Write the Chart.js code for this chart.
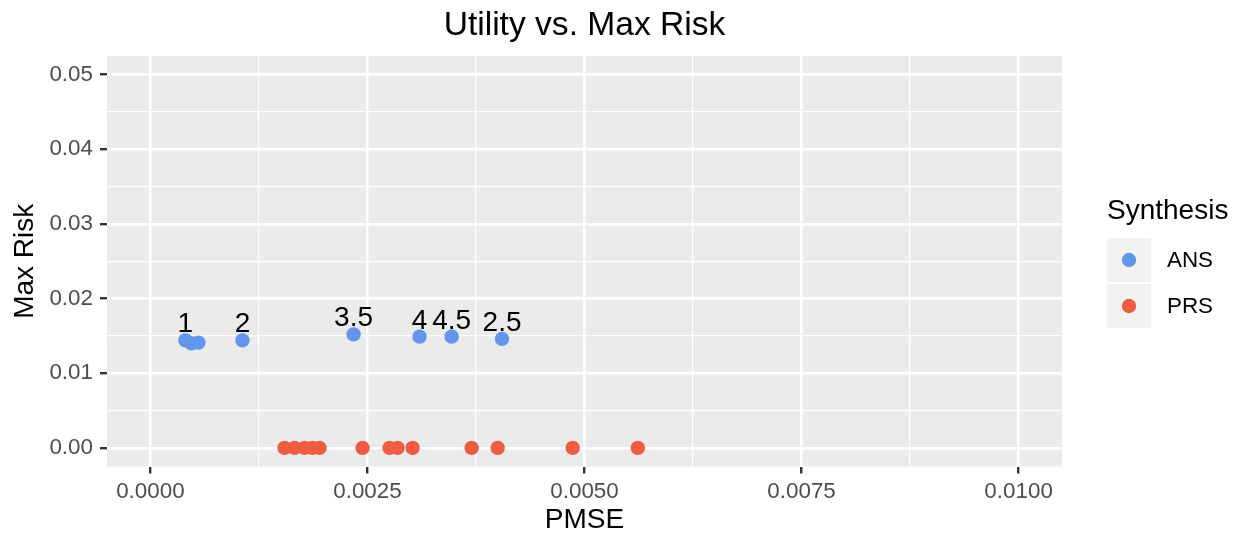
<!DOCTYPE html>
<html>
<head>
<meta charset="utf-8">
<script src="https://cdn.jsdelivr.net/npm/chart.js@4/dist/chart.umd.min.js"></script>
<style>
  html, body { margin: 0; padding: 0; background: #fff; }
  #wrap { width: 1242px; height: 537px; }
</style>
</head>
<body>
<div id="wrap"><canvas id="grafico" width="1242" height="537"></canvas></div>
<script>
// datos
const seriesNames = ['ANS', 'PRS'];
const seriesColors = ['#6495ED', '#EE5C42'];

const ansPmse = [0.000403, 0.000473, 0.000553, 0.00106, 0.00234, 0.00310, 0.00347, 0.00405];
const ansRisk = [0.0144, 0.0140, 0.0141, 0.0144, 0.0152, 0.0149, 0.0149, 0.0146];
const ansLabels = ['1', '', '', '2', '3.5', '4', '4.5', '2.5'];

const prsPmse = [0.001545, 0.00166, 0.001775, 0.001867, 0.001948, 0.002444, 0.002755, 0.002847, 0.00302, 0.00370, 0.00400, 0.004864, 0.005614];
const prsRisk = [0, 0, 0, 0, 0, 0, 0, 0, 0, 0, 0, 0, 0];

const xMajor = [0, 0.0025, 0.005, 0.0075, 0.01];
const xMinor = [0.00125, 0.00375, 0.00625, 0.00875];
const yMajor = [0, 0.01, 0.02, 0.03, 0.04, 0.05];
const yMinor = [0.005, 0.015, 0.025, 0.035, 0.045];

const FONT = "'Liberation Sans', Arial, sans-serif";

function isMajor(list, v) {
    return list.some(m => Math.abs(m - v) < 1e-9);
}
function buildTicks(major, minor) {
    return major.concat(minor).sort((a, b) => a - b).map(v => ({ value: v }));
}

// fondo gris del panel
const panelBg = {
    id: 'panelBg',
    beforeDraw(chart) {
        const a = chart.chartArea, ctx = chart.ctx;
        ctx.save();
        ctx.fillStyle = '#EBEBEB';
        ctx.fillRect(a.left, a.top, a.right - a.left, a.bottom - a.top);
        ctx.restore();
    }
};

// titulo, etiquetas de puntos y leyenda
const extras = {
    id: 'extras',
    afterDatasetsDraw(chart) {
        const ctx = chart.ctx;
        const meta = chart.getDatasetMeta(0);
        ctx.save();
        ctx.font = '28px ' + FONT;
        ctx.fillStyle = '#000';
        ctx.textAlign = 'center';
        ctx.textBaseline = 'alphabetic';
        meta.data.forEach((pt, i) => {
            if (ansLabels[i]) ctx.fillText(ansLabels[i], pt.x, pt.y - 8);
        });
        ctx.restore();
    },
    afterDraw(chart) {
        const ctx = chart.ctx, a = chart.chartArea;
        ctx.save();
        ctx.fillStyle = '#000';
        ctx.textAlign = 'center';
        ctx.textBaseline = 'alphabetic';
        ctx.font = '33.6px ' + FONT;
        ctx.fillText('Utility vs. Max Risk', (a.left + a.right) / 2, 35);

        // leyenda
        const lx = a.right + 45;
        ctx.textAlign = 'left';
        ctx.font = '28px ' + FONT;
        ctx.fillText('Synthesis', lx, 219);
        ctx.font = '22.4px ' + FONT;
        ctx.textBaseline = 'middle';
        seriesNames.forEach((name, i) => {
            const top = 238 + i * 46;
            ctx.fillStyle = '#F2F2F2';
            ctx.fillRect(lx, top, 44, 44);
            ctx.fillStyle = seriesColors[i];
            ctx.beginPath();
            ctx.arc(lx + 22, top + 22, 7.2, 0, Math.PI * 2);
            ctx.fill();
            ctx.fillStyle = '#000';
            ctx.fillText(name, lx + 60, top + 23);
        });
        ctx.restore();
    }
};

new Chart(document.getElementById('grafico'), {
    type: 'scatter',
    data: {
        datasets: [
            {
                label: seriesNames[0],
                data: ansPmse.map((x, i) => ({ x: x, y: ansRisk[i] })),
                backgroundColor: seriesColors[0],
                borderWidth: 0,
                pointRadius: 7.2
            },
            {
                label: seriesNames[1],
                data: prsPmse.map((x, i) => ({ x: x, y: prsRisk[i] })),
                backgroundColor: seriesColors[1],
                borderWidth: 0,
                pointRadius: 7.2
            }
        ]
    },
    options: {
        responsive: false,
        animation: false,
        layout: { padding: { top: 56, right: 180, left: 0, bottom: 0 } },
        plugins: {
            legend: { display: false },
            tooltip: { enabled: false },
            title: { display: false }
        },
        scales: {
            x: {
                type: 'linear',
                min: -0.0005,
                max: 0.0105,
                afterBuildTicks: axis => { axis.ticks = buildTicks(xMajor, xMinor); },
                afterFit: axis => { axis.height = 70.5; },
                border: { display: false },
                grid: {
                    color: '#FFFFFF',
                    lineWidth: c => isMajor(xMajor, c.tick.value) ? 2.4 : 1.2,
                    tickColor: c => isMajor(xMajor, c.tick.value) ? '#333333' : 'rgba(0,0,0,0)',
                    tickLength: 7,
                    tickWidth: 2.4
                },
                ticks: {
                    autoSkip: false,
                    maxRotation: 0,
                    padding: 5,
                    color: '#4D4D4D',
                    font: { family: FONT, size: 22.4 },
                    callback: v => isMajor(xMajor, v) ? v.toFixed(4) : ''
                },
                title: {
                    display: true,
                    text: 'PMSE',
                    color: '#000',
                    font: { family: FONT, size: 28 },
                    padding: { top: 0, bottom: 0 }
                }
            },
            y: {
                type: 'linear',
                min: -0.0025,
                max: 0.0525,
                afterBuildTicks: axis => { axis.ticks = buildTicks(yMajor, yMinor); },
                afterFit: axis => { axis.width = 107; },
                border: { display: false },
                grid: {
                    color: '#FFFFFF',
                    lineWidth: c => isMajor(yMajor, c.tick.value) ? 2.4 : 1.2,
                    tickColor: c => isMajor(yMajor, c.tick.value) ? '#333333' : 'rgba(0,0,0,0)',
                    tickLength: 7,
                    tickWidth: 2.4
                },
                ticks: {
                    autoSkip: false,
                    padding: 7,
                    color: '#4D4D4D',
                    font: { family: FONT, size: 22.4 },
                    callback: v => isMajor(yMajor, v) ? v.toFixed(2) : ''
                },
                title: {
                    display: true,
                    text: 'Max Risk',
                    color: '#000',
                    font: { family: FONT, size: 28 },
                    padding: { top: 8, bottom: 0 }
                }
            }
        }
    },
    plugins: [panelBg, extras]
});
</script>
</body>
</html>
